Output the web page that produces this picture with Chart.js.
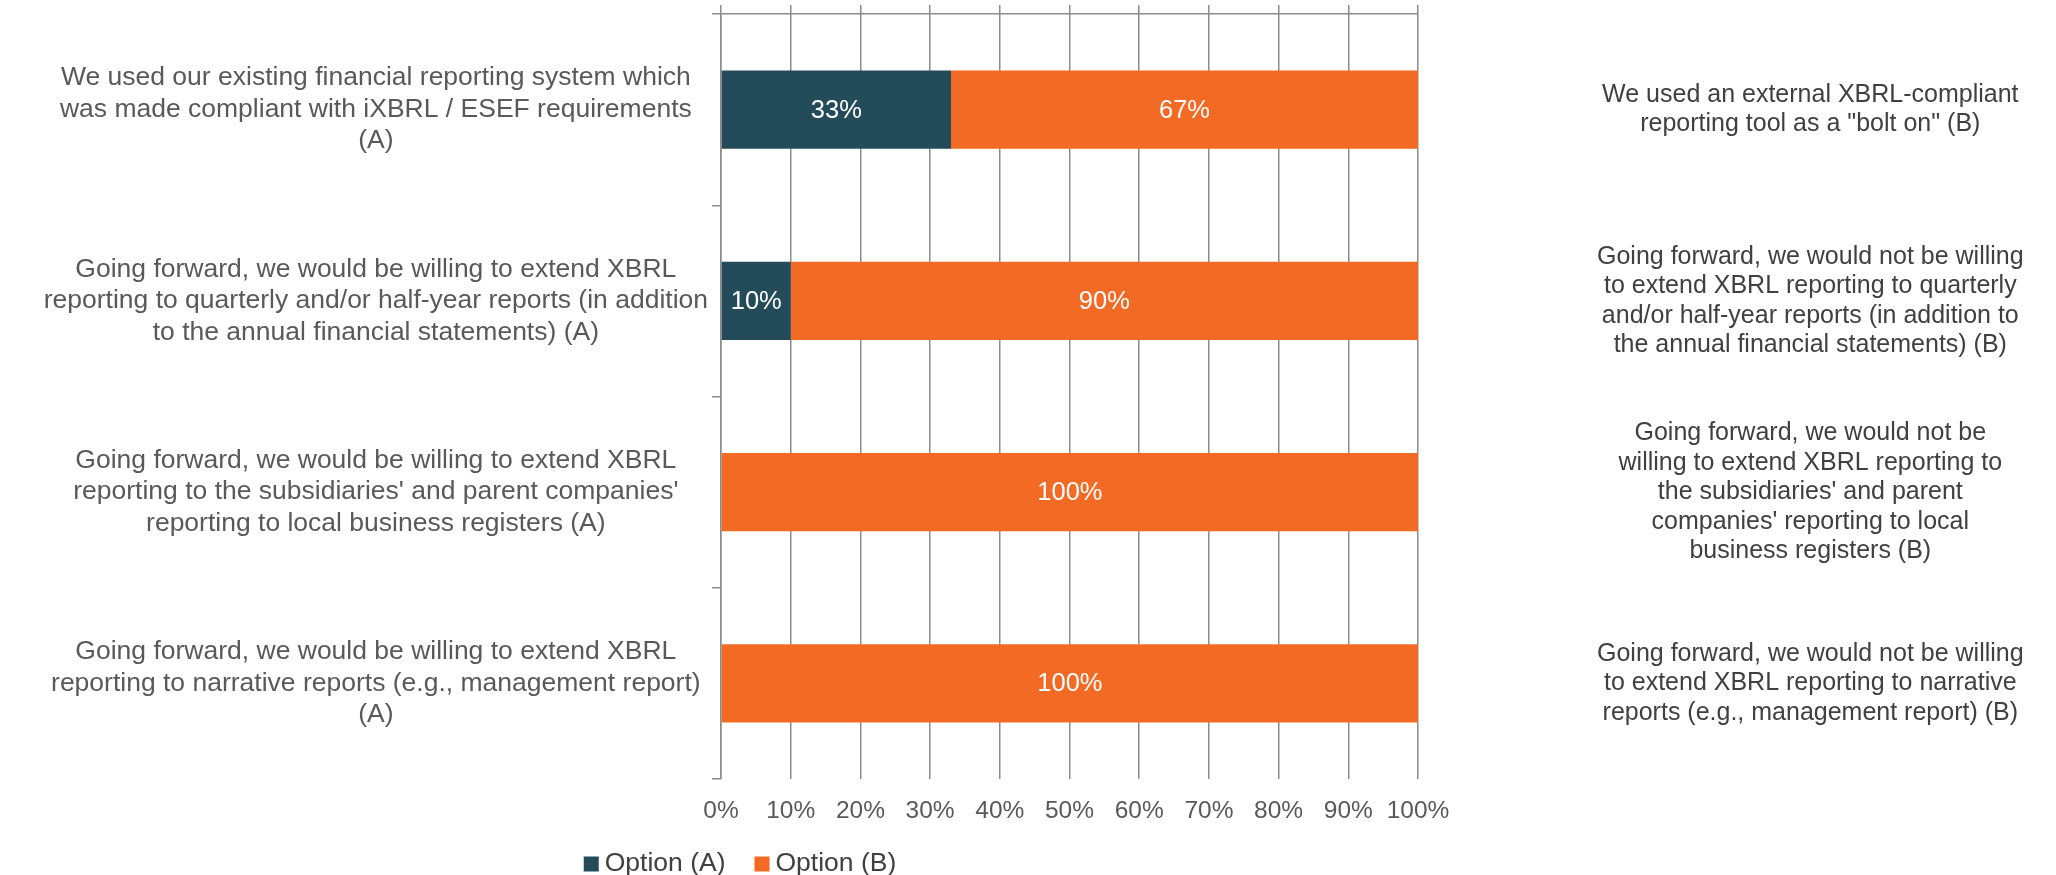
<!DOCTYPE html>
<html><head><meta charset="utf-8">
<script src="https://cdn.jsdelivr.net/npm/chart.js@4.4.1/dist/chart.umd.min.js"></script>
<style>html,body{margin:0;padding:0;background:#fff}#wrap{width:2056px;height:875px;position:relative}</style>
</head><body><div id="wrap"><canvas id="c"></canvas></div>
<script>
const categories = [
  ["We used our existing financial reporting system which", "was made compliant with iXBRL / ESEF requirements", "(A)"],
  ["Going forward, we would be willing to extend XBRL", "reporting to quarterly and/or half-year reports (in addition", "to the annual financial statements) (A)"],
  ["Going forward, we would be willing to extend XBRL", "reporting to the subsidiaries' and parent companies'", "reporting to local business registers (A)"],
  ["Going forward, we would be willing to extend XBRL", "reporting to narrative reports (e.g., management report)", "(A)"]
];
const rightLabels = [
  ["We used an external XBRL-compliant", "reporting tool as a \"bolt on\" (B)"],
  ["Going forward, we would not be willing", "to extend XBRL reporting to quarterly", "and/or half-year reports (in addition to", "the annual financial statements) (B)"],
  ["Going forward, we would not be", "willing to extend XBRL reporting to", "the subsidiaries' and parent", "companies' reporting to local", "business registers (B)"],
  ["Going forward, we would not be willing", "to extend XBRL reporting to narrative", "reports (e.g., management report) (B)"]
];
const seriesNames = ["Option (A)", "Option (B)"];
const optionA = [33, 10, 0, 0];
const optionB = [67, 90, 100, 100];
const xTickLabels = ["0%", "10%", "20%", "30%", "40%", "50%", "60%", "70%", "80%", "90%", "100%"];

const FONT = "'Liberation Sans', Arial, sans-serif";
const GRID = '#8c8c8c';
const COLORS = ['#234b59', '#f26a24'];

const barLabels = {
  id: 'barLabels',
  afterDatasetsDraw(chart) {
    const ctx = chart.ctx;
    ctx.save();
    ctx.font = `25.5px ${FONT}`;
    ctx.fillStyle = '#ffffff';
    ctx.textAlign = 'center';
    ctx.textBaseline = 'middle';
    chart.data.datasets.forEach((ds, di) => {
      const meta = chart.getDatasetMeta(di);
      meta.data.forEach((bar, i) => {
        const v = ds.data[i];
        if (!v) return;
        const p = bar.getCenterPoint();
        ctx.fillText(v + '%', p.x, p.y + 1);
      });
    });
    ctx.restore();
  }
};

const customLegend = {
  id: 'customLegend',
  afterDraw(chart) {
    const ctx = chart.ctx;
    ctx.save();
    ctx.font = `26.5px ${FONT}`;
    ctx.textBaseline = 'middle';
    ctx.textAlign = 'left';
    const box = 15, gap = 6, itemGap = 29;
    const ds = chart.data.datasets;
    const widths = ds.map(d => ctx.measureText(d.label).width);
    let total = 0;
    widths.forEach((w, i) => { total += box + gap + w + (i < widths.length - 1 ? itemGap : 0); });
    let x = 740 - total / 2;
    const cy = 864;
    ds.forEach((d, i) => {
      ctx.fillStyle = d.backgroundColor;
      ctx.fillRect(x, cy - box / 2, box, box);
      x += box + gap;
      ctx.fillStyle = '#404040';
      ctx.fillText(d.label, x, cy);
      x += widths[i] + itemGap;
    });
    ctx.restore();
  }
};

new Chart(document.getElementById('c'), {
  type: 'bar',
  data: {
    labels: categories,
    datasets: [
      { label: seriesNames[0], data: optionA, backgroundColor: COLORS[0], xAxisID: 'x', yAxisID: 'y', barPercentage: 0.82, categoryPercentage: 0.5 },
      { label: seriesNames[1], data: optionB, backgroundColor: COLORS[1], xAxisID: 'x', yAxisID: 'y', barPercentage: 0.82, categoryPercentage: 0.5 }
    ]
  },
  options: {
    indexAxis: 'y',
    responsive: true,
    maintainAspectRatio: false,
    devicePixelRatio: 1,
    animation: false,
    layout: { padding: { top: 5, left: 0, right: 0, bottom: 0 } },
    plugins: { legend: { display: false }, tooltip: { enabled: false } },
    scales: {
      x: {
        type: 'linear', position: 'bottom', stacked: true, min: 0, max: 100,
        ticks: { stepSize: 10, callback: (v, i) => xTickLabels[i], font: { family: FONT, size: 24.5 }, color: '#595959', padding: 18 },
        grid: { color: GRID, lineWidth: 1.5, drawTicks: false },
        border: { display: false },
        afterFit: s => { s.height = 96; s.paddingLeft = 0; s.paddingRight = 0; }
      },
      x2: {
        type: 'linear', position: 'top', min: 0, max: 100,
        ticks: { display: false, stepSize: 10 },
        grid: { drawOnChartArea: false, color: GRID, lineWidth: 1.5, tickLength: 9 },
        border: { display: false },
        afterFit: s => { s.height = 9; s.paddingLeft = 0; s.paddingRight = 0; }
      },
      y: {
        type: 'category', position: 'left', stacked: true, offset: true,
        grid: { offset: true, color: c => (c.index === 0 ? GRID : 'rgba(0,0,0,0)'), tickColor: GRID, tickLength: 9, lineWidth: 1.5 },
        border: { display: true, color: GRID, width: 1.5 },
        ticks: { crossAlign: 'center', padding: 4, autoSkip: false, font: { family: FONT, size: 26.5, lineHeight: 1.19 }, color: '#595959' },
        afterFit: s => { s.width = 721; s.paddingTop = 0; s.paddingBottom = 0; }
      },
      y2: {
        type: 'category', position: 'right', labels: rightLabels, offset: true,
        grid: { display: false },
        border: { display: false },
        ticks: { crossAlign: 'center', padding: 171, autoSkip: false, font: { family: FONT, size: 25, lineHeight: 1.18 }, color: '#404040' },
        afterFit: s => { s.width = 2056 - 1418; s.paddingTop = 0; s.paddingBottom = 0; }
      }
    }
  },
  plugins: [barLabels, customLegend]
});
</script>
</body></html>
